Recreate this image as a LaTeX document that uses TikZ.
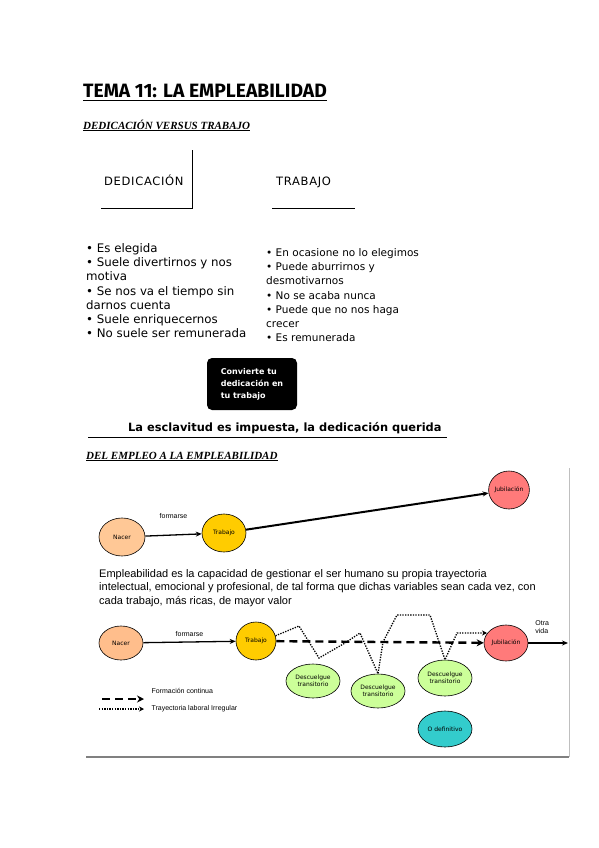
\documentclass[tikz,border=0pt]{standalone}
\usepackage{fontspec}
\setmainfont{Liberation Serif}
\setsansfont{Liberation Sans}
\newfontfamily\comic{DejaVu Sans}
\newfontfamily\titlefont{Fira Sans}
\usetikzlibrary{shapes.geometric,arrows.meta}

\begin{document}
\begin{tikzpicture}[x=1pt,y=-1pt,
  bubble/.style={ellipse,draw,line width=0.6pt,inner sep=0pt,align=center,
    font=\comic\fontsize{6}{7}\selectfont},
  tiny/.style={font=\sffamily\fontsize{7}{8}\selectfont,align=left},
  heading/.style={anchor=base west,inner sep=0pt,font=\bfseries\itshape\fontsize{11}{13}\selectfont},
  lista/.style={anchor=north west,inner sep=0pt,align=left,
    font=\comic\fontsize{10.5}{14.3}\selectfont},
  rotulo/.style={anchor=base west,inner sep=0pt,
    font=\comic\fontsize{11.5}{13}\selectfont\addfontfeature{LetterSpace=6}},
  flecha/.style={-{Stealth[length=6pt,width=5pt]}},
  formacion/.style={line width=2.4pt,dash pattern=on 8pt off 5pt,-{Stealth[length=7pt,width=7pt]}},
  irregular/.style={line width=1.3pt,dash pattern=on 1.3pt off 1.3pt,-{Stealth[length=5pt,width=5pt]}}]
\useasboundingbox (0,0) rectangle (599,848);
\fill[white] (0,0) rectangle (599,848);

% cabecera
\node[anchor=base west,inner sep=0pt,font=\titlefont\bfseries\fontsize{19.3}{22}\selectfont]
  (titulo) at (83,98) {\underline{TEMA 11: LA EMPLEABILIDAD}};
\node[heading] (sec1) at (83,129) {\underline{DEDICACIÓN VERSUS TRABAJO}};

% dedicacion / trabajo
\node[rotulo] (ded) at (104,185) {DEDICACIÓN};
\node[rotulo] (trab) at (276,185) {TRABAJO};
\coordinate (c1) at (192,150);
\coordinate (c2) at (192,208);
\coordinate (c3) at (101,208);
\coordinate (c4) at (272,208);
\coordinate (c5) at (355,208);
\draw[line width=0.8pt] (c1) -- (c2) -- (c3);
\draw[line width=0.8pt] (c4) -- (c5);

\node[lista,font=\comic\fontsize{11.8}{14.3}\selectfont] (listaded) at (86,243) {• Es elegida\\• Suele divertirnos y nos\\motiva\\• Se nos va el tiempo sin\\darnos cuenta\\• Suele enriquecernos\\• No suele ser remunerada};
\node[lista] (listatrab) at (266,248) {• En ocasione no lo elegimos\\• Puede aburrirnos y\\desmotivarnos\\• No se acaba nunca\\• Puede que no nos haga\\crecer\\• Es remunerada};

\node[fill=black,rounded corners=5pt,minimum width=90,minimum height=52,text=white,
  align=left,font=\comic\bfseries\fontsize{8}{12}\selectfont] (convierte) at (252,384)
  {Convierte tu\\dedicación en\\tu trabajo};

\node[anchor=base west,inner sep=0pt,font=\comic\bfseries\fontsize{11.4}{13}\selectfont] (frase) at (128,431)
  {La esclavitud es impuesta, la dedicación querida};
\coordinate (r1) at (88,437.5);
\coordinate (r2) at (447,437.5);
\draw[line width=1.2pt] (r1) -- (r2);

\node[heading] (sec2) at (86,459) {\underline{DEL EMPLEO A LA EMPLEABILIDAD}};

% marco
\coordinate (m1) at (569,468);
\coordinate (m2) at (569,757);
\coordinate (m3) at (86,757);
\draw[gray!50,line width=1pt] (m1) -- (m2);
\draw[gray,line width=2pt] (m3) -- (m2);

% del empleo
\node[bubble,fill={rgb,255:red,255;green,200;blue,150},minimum width=46,minimum height=38] (nacer) at (122,537) {Nacer};
\node[bubble,fill={rgb,255:red,255;green,204;blue,0},minimum width=44,minimum height=38] (trabajo) at (224,533) {Trabajo};
\node[bubble,fill={rgb,255:red,255;green,122;blue,122},minimum width=40,minimum height=38] (jubilacion) at (509,490) {Jubilación};
\draw[flecha,line width=1.3pt] (nacer) -- (trabajo) node[midway,above=12pt,tiny] {formarse};
\draw[flecha,line width=2pt] (trabajo) -- (jubilacion);

\node[anchor=north west,inner sep=0pt,align=left,font=\sffamily\fontsize{11}{13.5}\selectfont] (defin) at (99,569)
  {Empleabilidad es la capacidad de gestionar el ser humano su propia trayectoria\\
   intelectual, emocional y profesional, de tal forma que dichas variables sean cada vez, con\\
   cada trabajo, más ricas, de mayor valor};

% a la empleabilidad
\node[bubble,fill={rgb,255:red,255;green,190;blue,140},minimum width=44,minimum height=34] (nacer2) at (121,643) {Nacer};
\node[bubble,fill={rgb,255:red,255;green,204;blue,0},minimum width=40,minimum height=38] (trabajo2) at (256,641) {Trabajo};
\node[bubble,fill={rgb,255:red,255;green,122;blue,122},minimum width=44,minimum height=36] (jubilacion2) at (506,643) {Jubilación};
\node[bubble,fill={rgb,255:red,204;green,255;blue,153},minimum width=54,minimum height=34] (desc1) at (313,681) {Descuelgue\\transitorio};
\node[bubble,fill={rgb,255:red,204;green,255;blue,153},minimum width=54,minimum height=34] (desc2) at (378,691) {Descuelgue\\transitorio};
\node[bubble,fill={rgb,255:red,204;green,255;blue,153},minimum width=54,minimum height=36] (desc3) at (445,678) {Descuelgue\\transitorio};
\node[bubble,fill={rgb,255:red,51;green,204;blue,204},minimum width=54,minimum height=36] (definitivo) at (445,729) {O definitivo};
\coordinate (fin) at (568,643);

\draw[flecha,line width=1.3pt] (nacer2) -- (trabajo2) node[midway,above=1pt,tiny] {formarse};
\draw[formacion] (trabajo2) -- (jubilacion2);
\draw[flecha,line width=2pt] (jubilacion2) -- (fin) node[pos=0.35,above=5pt,tiny] {Otra\\vida};

\coordinate (t1) at (299,626);
\coordinate (t2) at (319,658);
\coordinate (t3) at (345,643);
\coordinate (t4) at (360,633);
\coordinate (t5) at (383,642);
\coordinate (t6) at (397,615);
\coordinate (t7) at (430,615);
\coordinate (t8) at (457,633);
\coordinate (t9) at (487,633);
\draw[irregular] (trabajo2.15) -- (t1) -- (t2) -- (t3) -- (t4) -- (desc2.north) -- (t5) -- (t6)
  -- (t7) -- (desc3.north) -- (t8) -- (t9);

% leyenda
\coordinate (l1) at (102,699);
\coordinate (l2) at (144,699);
\coordinate (l3) at (99,709);
\coordinate (l4) at (144,709);
\draw[formacion] (l1) -- (l2);
\draw[irregular] (l3) -- (l4);
\node[tiny,anchor=west] (leyenda1) at (148,691) {Formación continua};
\node[tiny,anchor=west] (leyenda2) at (148,709) {Trayectoria laboral Irregular};
\end{tikzpicture}
\end{document}
